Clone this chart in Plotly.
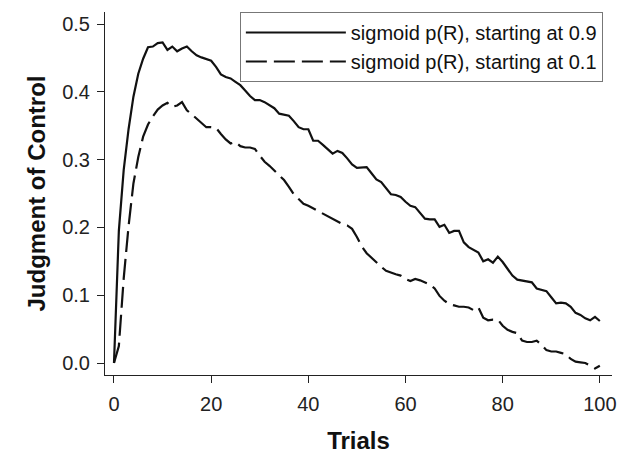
import plotly.graph_objects as go

trials = list(range(0, 101))

start_09 = [
    0.000, 0.195, 0.285, 0.345, 0.393, 0.427, 0.449, 0.466, 0.467, 0.472,
    0.473, 0.462, 0.467, 0.460, 0.464, 0.467, 0.460, 0.454, 0.451, 0.449,
    0.446, 0.437, 0.426, 0.422, 0.420, 0.415, 0.410, 0.402, 0.394, 0.388,
    0.388, 0.385, 0.381, 0.376, 0.368, 0.366, 0.365, 0.357, 0.348, 0.345,
    0.345, 0.328, 0.328, 0.322, 0.315, 0.309, 0.313, 0.310, 0.302, 0.293,
    0.288, 0.289, 0.289, 0.280, 0.271, 0.267, 0.258, 0.249, 0.248, 0.245,
    0.238, 0.232, 0.230, 0.222, 0.213, 0.212, 0.212, 0.201, 0.204, 0.192,
    0.195, 0.195, 0.178, 0.171, 0.167, 0.163, 0.150, 0.153, 0.148, 0.157,
    0.149, 0.138, 0.129, 0.123, 0.122, 0.121, 0.119, 0.110, 0.108, 0.106,
    0.097, 0.088, 0.089, 0.088, 0.083, 0.074, 0.071, 0.066, 0.063, 0.068,
    0.062,
]

start_01 = [
    0.000, 0.025, 0.125, 0.202, 0.265, 0.304, 0.334, 0.352, 0.364, 0.374,
    0.380, 0.384, 0.378, 0.380, 0.385, 0.373, 0.367, 0.361, 0.354, 0.348,
    0.348, 0.347, 0.338, 0.330, 0.324, 0.326, 0.320, 0.318, 0.318, 0.316,
    0.306, 0.297, 0.291, 0.284, 0.276, 0.270, 0.260, 0.249, 0.242, 0.235,
    0.232, 0.228, 0.224, 0.221, 0.217, 0.213, 0.209, 0.205, 0.203, 0.198,
    0.186, 0.172, 0.162, 0.155, 0.148, 0.142, 0.136, 0.133, 0.131, 0.129,
    0.124, 0.121, 0.124, 0.122, 0.119, 0.116, 0.110, 0.099, 0.092, 0.087,
    0.085, 0.083, 0.083, 0.082, 0.078, 0.082, 0.067, 0.063, 0.064, 0.064,
    0.055, 0.049, 0.046, 0.044, 0.033, 0.031, 0.031, 0.033, 0.027, 0.019,
    0.017, 0.017, 0.015, 0.013, 0.006, 0.002, 0.001, 0.000, -0.004, -0.008,
    -0.004,
]

series_names = ["sigmoid p(R), starting at 0.9", "sigmoid p(R), starting at 0.1"]
x_ticks = [0, 20, 40, 60, 80, 100]
y_ticks = [0.0, 0.1, 0.2, 0.3, 0.4, 0.5]

fig = go.Figure()
fig.add_trace(go.Scatter(
    x=trials, y=start_09, mode="lines", name=series_names[0],
    line=dict(color="#111111", width=2.2),
))
fig.add_trace(go.Scatter(
    x=trials, y=start_01, mode="lines", name=series_names[1],
    line=dict(color="#111111", width=2.2, dash="21px,7px"),
))

axis_common = dict(
    showline=True, linecolor="#222222", linewidth=1,
    ticks="outside", ticklen=7, tickcolor="#222222", tickwidth=1,
    showgrid=False, zeroline=False, automargin=False,
    tickfont=dict(family="Arial, Liberation Sans, sans-serif", size=20, color="#222222"),
)

fig.update_layout(
    width=617, height=446,
    margin=dict(l=97, r=13, t=4, b=79),
    paper_bgcolor="white", plot_bgcolor="white",
    font=dict(family="Arial, Liberation Sans, sans-serif", color="#111111"),
    xaxis=dict(
        range=[-1.85, 102.5], tickvals=x_ticks,
        title=dict(text="<b>Trials</b>", font=dict(size=24, color="#111111"), standoff=21),
        ticklabelstandoff=4,
        **axis_common,
    ),
    yaxis=dict(
        range=[-0.0177, 0.518], tickvals=y_ticks, tickformat=".1f",
        title=dict(text="<b>Judgment of Control</b>", font=dict(size=24, color="#111111"), standoff=9),
        ticklabelstandoff=3,
        **axis_common,
    ),
    legend=dict(
        x=0.266, y=1.0, xanchor="left", yanchor="top",
        bordercolor="#777777", borderwidth=1, bgcolor="white",
        font=dict(size=20, color="#111111"),
        itemwidth=100,
    ),
)

fig.write_html("out.html")
